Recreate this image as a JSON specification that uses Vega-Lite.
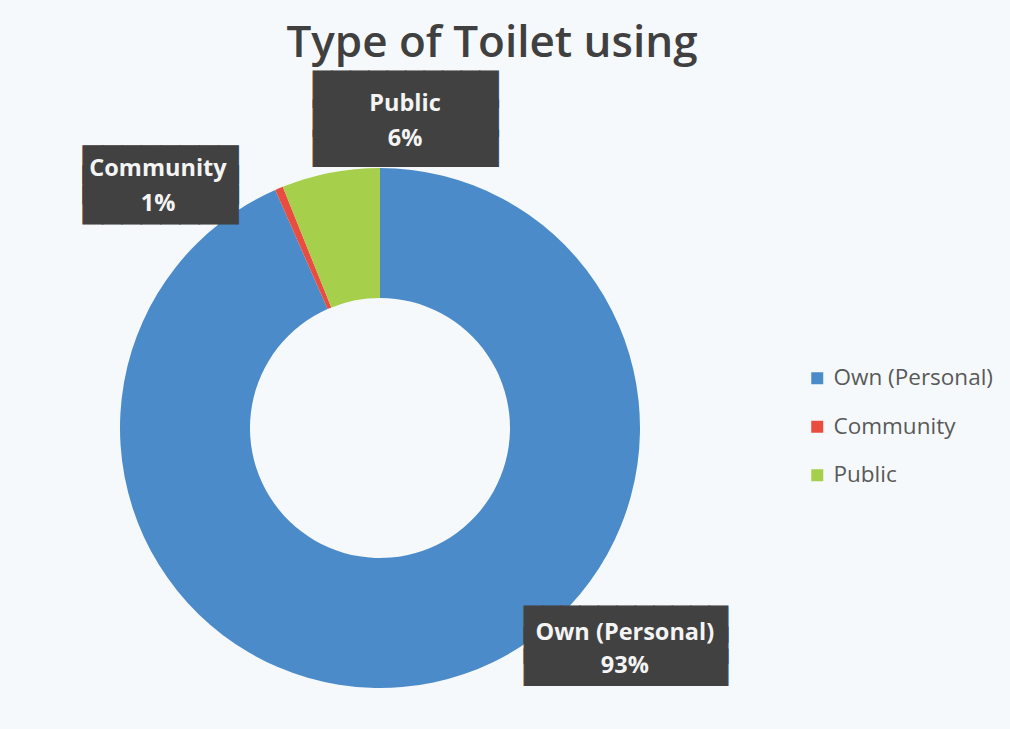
{
  "$schema": "https://vega.github.io/schema/vega-lite/v6.json",
  "autosize": {"type": "none"},
  "width": 760,
  "height": 600,
  "padding": {"left": 0, "top": 128, "right": 250, "bottom": 1},
  "background": "#f6f9fb",
  "title": {
    "text": "Type of Toilet using",
    "anchor": "middle",
    "frame": "group",
    "baseline": "bottom",
    "dx": 112,
    "dy": 35,
    "offset": 0,
    "font": "Open Sans",
    "fontSize": 44,
    "fontWeight": 600,
    "color": "#404040"
  },
  "data": {
    "values": [
      {"type": "Own (Personal)", "share": 93.4, "pct": "93%", "rank": 1},
      {"type": "Community", "share": 0.5, "pct": "1%", "rank": 2},
      {"type": "Public", "share": 6.1, "pct": "6%", "rank": 3}
    ]
  },
  "encoding": {
    "theta": {"field": "share", "type": "quantitative", "stack": true},
    "order": {"field": "rank", "type": "quantitative"}
  },
  "layer": [
    {
      "mark": {"type": "arc", "innerRadius": 130, "outerRadius": 260},
      "encoding": {
        "color": {
          "field": "type",
          "type": "nominal",
          "scale": {"domain": ["Own (Personal)", "Community", "Public"], "range": ["#4b8bca", "#e84d3f", "#a6cf4b"]},
          "legend": {
            "title": null,
            "orient": "none",
            "legendX": 806,
            "legendY": 239,
            "symbolType": "square",
            "symbolSize": 144,
            "symbolStrokeWidth": 0,
            "labelFont": "Open Sans",
            "labelFontSize": 22.5,
            "labelColor": "#595959",
            "labelOffset": 5,
            "rowPadding": 25.5,
            "padding": 0
          }
        }
      }
    },
    {
      "mark": {
        "type": "text",
        "font": "DejaVu Sans Mono",
        "radius": 320,
        "dx": {"expr": "datum.type === 'Public' ? 86.5 : datum.type === 'Community' ? -95.2 : 180.1"},
        "dy": {"expr": "datum.type === 'Public' ? -23 : datum.type === 'Community' ? 32.6 : -115.3"},
        "lineHeight": {"expr": "datum.type === 'Public' ? 29.6 : datum.type === 'Community' ? 20.25 : 21.6"},
        "align": "center",
        "baseline": "middle",
        "color": "#414141",
        "stroke": "#414141",
        "strokeWidth": 1
      },
      "encoding": {
        "size": {"condition": {"test": "datum.type === 'Community'", "value": 32.2}, "value": 30.7},
        "text": {
          "condition": [
            {"test": "datum.type === 'Public'", "value": ["██████████", "██████████", "██████████"]},
            {"test": "datum.type === 'Community'", "value": ["████████", "████████", "████████"]}
          ],
          "value": ["███████████", "███████████", "███████████"]
        }
      }
    },
    {
      "mark": {
        "type": "text",
        "font": "Open Sans",
        "fontWeight": "bold",
        "fontSize": 23.5,
        "radius": 320,
        "dx": {"expr": "datum.type === 'Public' ? 86 : datum.type === 'Community' ? -97.7 : 179"},
        "dy": {"expr": "datum.type === 'Public' ? -10 : datum.type === 'Community' ? 36 : -108"},
        "align": "center",
        "baseline": "middle",
        "color": "#f4f4f4"
      },
      "encoding": {"text": {"field": "type"}}
    },
    {
      "mark": {
        "type": "text",
        "font": "Open Sans",
        "fontWeight": "bold",
        "fontSize": 23.5,
        "radius": 320,
        "dx": {"expr": "datum.type === 'Public' ? 86 : datum.type === 'Community' ? -97.7 : 179"},
        "dy": {"expr": "datum.type === 'Public' ? 25 : datum.type === 'Community' ? 71 : -75"},
        "align": "center",
        "baseline": "middle",
        "color": "#f4f4f4"
      },
      "encoding": {"text": {"field": "pct"}}
    }
  ],
  "config": {"view": {"stroke": null}}
}
